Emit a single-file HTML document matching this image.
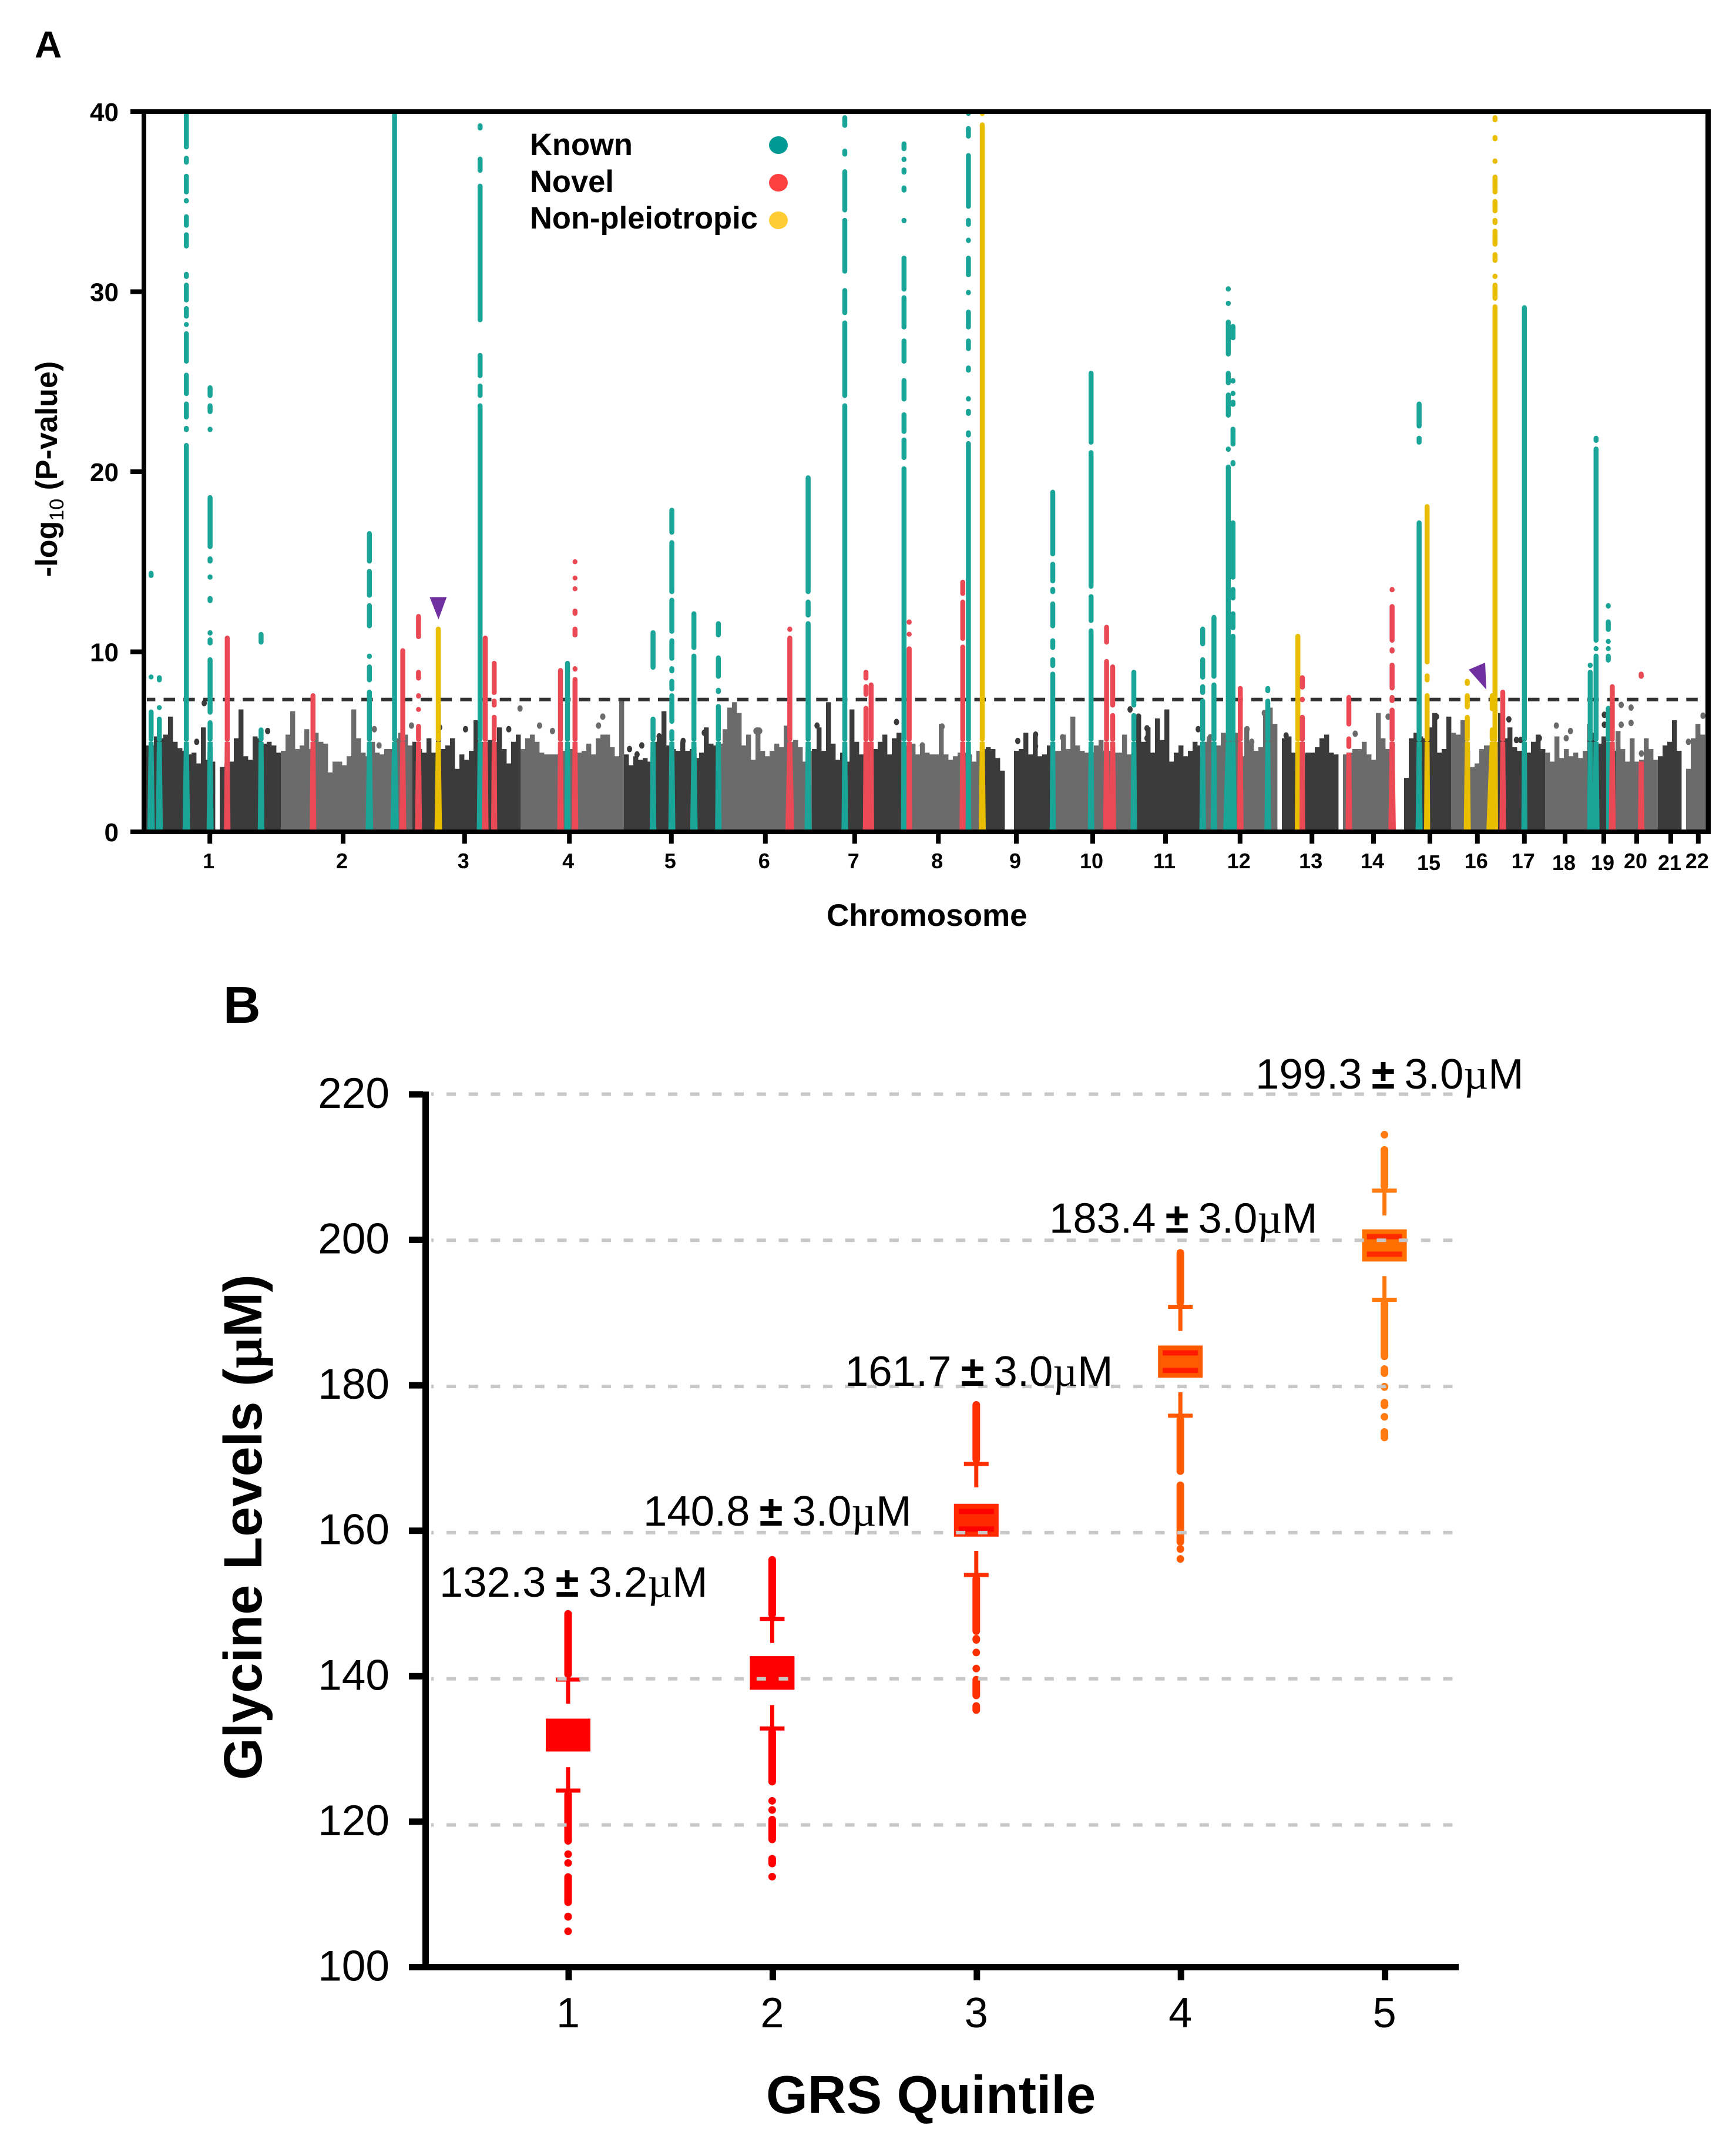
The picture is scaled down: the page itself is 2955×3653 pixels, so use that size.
<!DOCTYPE html>
<html lang="en">
<head>
<meta charset="utf-8">
<title>Manhattan plot and glycine levels by GRS quintile</title>
<style>
html,body{margin:0;padding:0;background:#fff;}
svg{display:block;}
text{font-family:"Liberation Sans",Arial,sans-serif;fill:#000;}
.b{font-weight:bold;}
.mu{font-family:"Liberation Serif",serif;}
</style>
</head>
<body>
<svg id="fig" xmlns="http://www.w3.org/2000/svg" width="2955" height="3653" viewBox="0 0 2955 3653">
  <rect x="0" y="0" width="2955" height="3653" fill="#fff"/>
  <g id="panelA">
    <text class="b" x="59" y="98" font-size="64">A</text>
    <g id="bgLayer"></g>
    <g id="thresholdLayer"></g>
    <g id="lociLayer"></g>
    <g id="markerLayer"></g>
    <g id="axisALayer"></g>
    <text class="b" transform="translate(97,982) rotate(-90)" font-size="52">-log<tspan dy="11" font-size="34" font-weight="normal">10</tspan><tspan dy="-11"> (P-value)</tspan></text>
    <text class="b" x="1407" y="1576" font-size="53">Chromosome</text>
    <g>
      <text class="b" x="902" y="264" font-size="52.5">Known</text>
      <text class="b" x="902" y="327" font-size="52.5">Novel</text>
      <text class="b" x="902" y="389" font-size="52.5">Non-pleiotropic</text>
      <ellipse cx="1325" cy="247" rx="16" ry="15" fill="#009a94"/>
      <ellipse cx="1325" cy="311" rx="16" ry="15" fill="#ff4040"/>
      <ellipse cx="1325" cy="375" rx="16" ry="15" fill="#ffcc33"/>
    </g>
  </g>
  <g id="panelB">
    <text class="b" x="380" y="1741" font-size="88">B</text>
    <g id="boxLayer"></g>
    <g id="gridLayer"></g>
    <g id="axisBLayer"></g>
    <g id="annotationLayer"></g>
    <text class="b" transform="translate(445,3030) rotate(-90)" font-size="92">Glycine Levels (<tspan class="mu">µ</tspan>M)</text>
    <text class="b" x="1304" y="3597" font-size="91">GRS Quintile</text>
  </g>
</svg>
<script>
/* ---------- Panel A data ---------- */
const chromosomes = ["1","2","3","4","5","6","7","8","9","10","11","12","13","14","15","16","17","18","19","20","21","22"];
/* genome coordinates are in fixed-width genome bins */
const chromosomeTicks = [13.4,41.75,67.6,89.9,111.6,131.6,150.6,168.4,185,201.25,216.75,232.6,247.9,261,273,283.1,293.1,301.75,310,317,324.25,330.1];
const chromosomeEnds = [28.1,56.4,79.1,101.5,121.9,141.6,160.3,177.1,192.1,209.1,224.1,240.5,254,266,277.5,287.5,297.3,306.3,312.9,321,327,332];
const pValueTicks = [40,30,20,10,0];
const genomeWideThreshold = 7.35;
/* peak -log10(P) of non-significant SNPs per genome bin */
const signalEnvelope = [
4.8,4.8,5.3,5.2,5.4,6.4,5.0,4.65,4.5,4.3,
4.4,3.8,5.8,4.0,3.9,0,3.6,3.8,3.9,5.2,
6.8,4.2,4.0,5.3,5.2,4.9,5.0,4.8,4.4,4.5,
5.4,6.7,4.6,4.8,5.7,4.6,5.5,5.0,4.9,3.3,
3.9,3.9,3.7,4.2,6.8,5.2,4.4,4.2,5.0,4.4,
4.3,4.6,4.6,5.2,5.5,5.4,4.8,5.0,4.6,4.4,
5.2,4.4,7.1,4.6,4.8,5.2,3.5,4.3,4.0,4.5,
6.2,5.0,4.9,5.1,5.0,5.8,4.6,3.8,5.0,5.4,
4.6,5.2,5.4,5.0,4.4,4.3,4.3,4.3,4.3,4.5,
4.6,4.6,4.4,4.5,4.9,4.3,5.2,5.4,5.4,4.7,
4.2,7.4,4.3,3.7,4.2,4.0,4.1,3.9,5.0,5.4,
6.7,4.8,4.6,4.5,5.0,4.5,4.6,4.1,4.4,5.8,
4.9,4.8,4.9,5.7,6.9,7.2,6.6,4.8,5.4,4.0,
5.8,4.5,4.2,4.5,4.9,4.7,5.9,5.0,5.1,4.7,
3.9,4.5,4.6,5.8,4.5,7.2,4.9,4.0,4.4,3.9,
6.8,5.0,4.3,5.0,4.5,4.6,5.0,5.4,4.3,5.2,
5.5,4.7,4.8,4.9,4.3,4.9,4.4,4.3,4.3,6.0,
4.3,4.0,4.2,4.4,4.4,4.3,3.9,4.5,4.6,4.7,
4.6,4.1,3.4,0,0,4.5,4.6,5.5,4.3,5.4,
4.2,4.3,4.8,4.5,4.5,5.4,4.6,6.4,4.8,4.5,
4.4,4.4,4.8,5.1,4.5,4.5,4.4,4.4,5.4,4.3,
4.6,6.5,5.0,5.8,4.4,6.3,5.1,6.8,3.9,4.4,
4.8,4.2,4.5,5.0,4.8,5.0,5.3,5.0,4.8,5.5,
5.4,5.7,5.5,4.2,5.8,5.0,4.5,4.7,6.7,6.9,
6.0,0,5.2,5.3,4.4,4.4,4.3,4.4,4.4,4.7,
5.2,5.4,4.4,4.3,0,4.3,4.4,4.6,4.6,5.0,
4.3,4.0,6.6,5.2,4.6,4.9,0,0,3.0,5.2,
5.5,5.3,5.2,5.8,6.6,4.4,4.6,6.4,5.5,5.4,
6.2,4.5,3.6,3.8,4.6,4.8,4.8,5.0,6.6,5.2,
5.8,4.7,4.5,4.5,4.4,5.0,5.4,4.6,4.4,3.9,
5.3,4.1,4.6,4.2,4.4,4.1,4.5,6.0,5.5,4.9,
5.3,4.9,4.5,5.6,4.6,3.9,5.2,3.9,4.0,5.2,
4.6,4.0,4.2,4.8,5.0,6.2,4.5,0,3.5,5.2,6.0,5.4
];
/* isolated sub-threshold SNPs */
const scatterPos = [12.2,10.6,25.7,79.4,77,67.8,56.3,48.4,62.3,49.4,83.55,86.3,97,96.1,102.7,104.3,105.3,109,114.1,118.6,142.6,159.5,129.6,130.4,165,169.2,185.3,189.1,189.1,194.8,209.2,211,212.8,212.8,223.7,226.25,234.1,235.1,237.75,239.9,242.4,257.1,264.1,274.4,289.8,299.9,302.9,302,310.1,310.1,313.7,313.7,315.8,315.8,331.1,328,318,291.4,292.3,296.3];
const scatterVal = [7.15,5.0,5.6,6.85,5.7,5.7,5.9,5.7,5.8,4.8,5.9,5.6,6.4,5.9,4.6,4.3,4.8,5.3,5.05,5.5,5.9,6.1,5.6,5.6,4.8,5.85,5.05,5.4,4.75,5.25,6.8,6.4,5.75,5.2,5.7,5.25,5.7,5.0,6.6,5.7,5.35,5.45,6.4,6.4,6.25,5.9,5.6,5.2,6.5,5.95,7.05,5.95,6.9,6.05,6.45,5.0,4.35,5.1,5.1,5.2];
/* associated loci: K known, N novel, P non-pleiotropic */
const lociPos = [0.9,2.65,8.4,13.45,17.1,24.3,35.35,47.35,52.7,54.45,57.8,62,70.9,72,73.9,88,89.5,91.1,107.7,111.7,116.4,121.6,136.8,140.7,148.5,153,154.1,161.1,162.2,173.6,174.8,177.75,192.75,200.9,204.2,205.5,210,224.65,227.05,230.1,231.1,232.65,238.5,244.9,245.85,255.75,264.95,270.7,272.4,280.95,286.25,286.85,288.5,293.1,307.1,307.7,308.35,310.95,311.8,317.95];
const lociCat = ["K","K","K","K","N","K","N","K","K","N","N","P","K","N","N","N","K","N","K","K","K","K","N","K","K","N","N","K","N","N","K","P","K","K","N","N","K","K","K","K","K","N","K","P","N","N","N","K","P","P","P","P","N","K","K","K","K","K","N","N"];
const lociExtent = [1.6,1.5,1.6,1.5,1.4,1.4,1.4,1.6,1.8,1.5,1.5,1.6,1.4,1.4,1.3,1.4,1.3,1.4,1.4,1.5,1.6,1.4,1.9,1.5,1.4,1.3,1.3,1.3,1.2,1.4,1.2,1.5,1.3,1.4,1.5,1.5,1.4,1.4,1.4,2.2,1.6,1.4,1.4,1.3,1.2,1.4,1.6,1.5,1.3,1.5,2.5,1.3,1.4,1.3,1.3,2.6,1.5,0.9,1.5,1.4];
const lociSpans = [
[[0,6.8],[8.5,8.7],[14.1,14.5]],
[[0,6.4],[6.8,7.0],[8.3,8.7]],
[[0,21.6],[22.2,22.55],[22.9,23.9],[24.2,25.5],[26,27.8],[28.05,28.3],[28.5,29.2],[29.4,30.5],[30.7,31.1],[32.4,33.3],[33.55,34.3],[34.9,35.2],[35.4,36.55],[37.05,37.55],[37.9,40]],
[[0,6.2],[6.5,9.7],[10.35,10.8],[10.9,11.2],[12.7,13.1],[14,14.3],[14.9,15.3],[15.7,18.7],[22.2,22.5],[23.2,23.8],[24.1,24.8]],
[[0,10.9]],
[[0,5.8],[10.4,11.1]],
[[0,7.7]],
[[0,7.9],[8.3,9.3],[9.6,9.9],[11.3,12.7],[13.0,14.6],[14.9,16.7]],
[[0,40]],
[[0,10.2]],
[[0,6.0],[6.7,6.9],[7.4,7.7],[8.4,9.0],[10.7,12.1]],
[[0,11.4]],
[[0,23.8],[24.1,24.9],[25.2,26.6],[28.3,36],[36.6,37.5],[38.95,39.35]],
[[0,10.9]],
[[0,6.5],[6.9,7.4],[7.6,9.5]],
[[0,9.1]],
[[0,9.5]],
[[0,8.6],[8.9,9.2],[10.8,11.4],[12,12.4],[13.4,13.6],[14.0,14.2],[14.9,15.1]],
[[0,6.4],[9,11.2]],
[[0,5.7],[6,7.7],[7.8,8.5],[8.8,9.2],[9.5,10.75],[11,13],[13.2,16.2],[16.5,18]],
[[0,9.9],[10.1,12.25]],
[[0,7.1],[7.65,8],[8.5,9.8],[10.8,11.7]],
[[0,10.9],[11.1,11.4]],
[[0,11.7],[11.9,12.9],[13.2,19.8]],
[[0,23.8],[24.1,28.4],[28.7,30.2],[31,34.1],[34.4,36.8],[37.5,37.95],[39.1,39.8]],
[[0,7.0],[7.5,8.2],[8.4,9.0]],
[[0,8.3]],
[[0,20.3],[20.65,21.9],[22.1,23.3],[23.9,25.2],[26,27.4],[27.9,29.8],[30,32],[33.8,34.1],[35.5,35.9],[36.5,36.9],[37.2,37.5],[37.8,38.35]],
[[0,10.3],[10.85,11.1],[11.5,11.8]],
[[0,10.4],[10.6,12.9],[13.1,14]],
[[0,21.7],[21.9,22.3],[23.1,23.5],[23.9,24.2],[25.5,25.9],[26.7,27.4],[27.9,29],[29.8,30.1],[30.8,32],[32.7,33],[33.6,34.1],[34.6,37.7],[38.5,39.2],[39.8,40]],
[[0,39.4],[39.8,40]],
[[0,8.9],[9.1,9.7],[10.1,10.75],[11.3,12.8],[13.2,13.6],[13.8,15],[15.3,19]],
[[0,11.3],[11.6,13.2],[13.5,21.2],[21.5,25.6]],
[[0,9.6],[10.4,11.5]],
[[0,6.6],[6.9,9.3]],
[[0,6.6],[6.9,9.0]],
[[0,7.4],[7.6,8.2],[8.45,9.7],[10.3,11.4]],
[[0,8.3],[8.5,12.05]],
[[0,20.4],[21.1,21.4],[23,24.4],[24.8,25.6],[26.4,28.45],[29.2,29.5],[30,30.3]],
[[0,11],[11.2,12.25],[12.85,13.6],[14,17.3],[20.3,20.65],[21.4,22.5],[23.6,24],[24.2,24.5],[24.9,25.2],[27.3,28.2]],
[[0,8.1]],
[[0,7.4],[7.7,8.1]],
[[0,11]],
[[0,6.5],[7.2,7.5],[7.9,8.7]],
[[0,4.4],[4.6,5.3],[5.85,7.6]],
[[0,6.9],[7.15,7.6],[7.85,9.4],[9.9,10.25],[10.5,12.65],[13.3,13.6]],
[[0,17.3],[21.5,22],[22.4,23.9]],
[[0,7.7],[8.3,8.8],[9.3,18.2]],
[[0,6.5],[6.8,7.7],[8.1,8.5]],
[[0,5.8],[6.7,7.7]],
[[0,29.3],[29.5,30.5],[30.7,31],[31.6,32.2],[32.5,33.5],[33.7,34.1],[34.35,35.15],[35.4,36.5],[37.1,37.4],[38.35,38.7],[39.4,39.8]],
[[0,7.9]],
[[0,29.25]],
[[0,9.0],[9.1,9.4]],
[[0,2.7]],
[[0,9.9],[10.05,10.3],[10.5,21.4],[21.6,22]],
[[0,7.0],[9.4,9.9],[10.05,10.3],[10.45,10.7],[11.1,11.8],[12.4,12.7]],
[[0,8.2]],
[[0,3.9],[8.5,8.9]]
];
const highlightPos = [62.05,285];
const highlightVal = [11.8,7.9];

/* ---------- Panel B data ---------- */
const quintiles = [1,2,3,4,5];
const glycineTicks = [220,200,180,160,140,120,100];
const gridValues = [220,200,180,160,140,120];
const means = [132.3,140.8,161.7,183.4,199.3];
const sds = [3.2,3.0,3.0,3.0,3.0];
const boxHalfRange = [2.25,2.3,2.25,2.2,2.2];
const capHigh = [139.9,148.2,169.4,190.9,206.8];
const capLow = [124.7,133.2,154.2,176,191.85];
const whiskerHighStart = [136.6,144.9,166.2,187.6,203.4];
const whiskerLowStart = [127.9,136.4,157.5,179.2,195.1];
const upperOutlierSpans = [
[[140.1,149.4]],
[[148.3,156.8]],
[[169.5,178]],
[[191,198.8]],
[[206.9,212.9],[214,214.9]]
];
const lowerOutlierSpans = [
[[117.3,124.7],[115.7,116.3],[114.5,115.1],[108.9,113.4],[106.9,108],[105.1,105.8]],
[[125.4,133.2],[123,123.6],[121.8,122.3],[117.5,121.25],[114.2,115.9],[112.5,113.35]],
[[146,154.2],[144.8,146],[143.2,144],[141.2,141.6],[137.2,140.4],[135.2,136.8]],
[[167.9,176],[158.2,167],[157.5,158],[156.2,156.6]],
[[183.6,191.85],[181.3,182.9],[179.4,180.5],[176.9,178.3],[175.5,176.2],[172.5,174.3]]
];

/* ---------- Styles (kept apart from data) ---------- */
const catColor = {K:"#1aa598",N:"#e94a55",P:"#e9bd00"};
const stripColor = ["#ff0000","#ff0000","#ff3000","#ff5a00","#ff7a10"];
const boxFill = ["#ff0000","#ff0000","#ff2a00","#ff5a00","#ff7000"];
const bandFill = ["#ff0000","#ff0000","#ff0000","#ff1a00","#ff2a00"];
const NS = "http://www.w3.org/2000/svg";

/* ---------- Axis functions ---------- */
function gx(p){return 250+8*p;}
function gy(v){return 1416-30.65*v;}
function qx(i){return 967+347.4*i;}
function vy(v){return 1862.5+(220-v)*12.44;}
function vyTick(v){return 3348.5-(v-100)*12.38;}
function mk(tag,parent){const e=document.createElementNS(NS,tag);parent.appendChild(e);return e;}
function set(e,o){for(const k in o){e.setAttribute(k,o[k]);}return e;}
function chromIndex(p){for(let i=0;i<chromosomeEnds.length;i++){if(p<=chromosomeEnds[i])return i;}return chromosomeEnds.length-1;}
function chromColor(p){return chromIndex(p)%2===0?"#3b3b3b":"#6b6b6b";}
function vSeg(el,x,yTop,yBottom,w,color){
  let a=yTop+w/2,b=yBottom-w/2;
  if(a>b){a=b=(yTop+yBottom)/2;}
  set(el,{x1:x,x2:x,y1:a,y2:b,stroke:color,"stroke-width":w,"stroke-linecap":"round"});
}

/* ---------- Panel A: signal ---------- */
const bgLayer=document.getElementById("bgLayer");
signalEnvelope.forEach(function(v,b){
  if(v<=0)return;
  const el=mk("rect",bgLayer);
  
  
  set(el,{x:gx(b)-4,y:gy(v),width:8.4,height:gy(0)-gy(v),fill:chromColor(b)});
});
scatterPos.forEach(function(p,i){
  const el=mk("ellipse",bgLayer);
  
  
  set(el,{cx:gx(p),cy:gy(scatterVal[i]),rx:4.5,ry:5.5,fill:chromColor(p)});
});

/* threshold */
const th=mk("line",document.getElementById("thresholdLayer"));


set(th,{x1:250,x2:2892,y1:gy(genomeWideThreshold),y2:gy(genomeWideThreshold),stroke:"#333","stroke-width":6,"stroke-dasharray":"19.5 14.16","stroke-dashoffset":5.16});

/* loci */
const lociLayer=document.getElementById("lociLayer");
lociPos.forEach(function(p,i){
  const color=catColor[lociCat[i]];
  const x=gx(p);
  const halfBase=lociExtent[i]*4;
  const g=mk("g",lociLayer);
  
  
  lociSpans[i].forEach(function(s){
    if(s[0]===0){
      const neck=Math.min(s[1],5);
      const poly=mk("polygon",g);
      
      
      const hw=Math.min(halfBase,4.25);
      set(poly,{points:(x-halfBase)+","+gy(0)+" "+(x+halfBase)+","+gy(0)+" "+(x+hw)+","+gy(neck)+" "+(x-hw)+","+gy(neck),fill:color});
      if(s[1]>neck){
        const up=mk("line",g);
        
        
        vSeg(up,x,gy(s[1]),gy(neck),8.5,color);
      }
    }else{
      const seg=mk("line",g);
      
      
      vSeg(seg,x,gy(s[1]),gy(s[0]),8.5,color);
    }
  });
});

/* highlight triangles */
const markerLayer=document.getElementById("markerLayer");
const tri1=mk("polygon",markerLayer);


set(tri1,{points:(gx(highlightPos[0])-15)+","+(gy(highlightVal[0])-38)+" "+(gx(highlightPos[0])+14)+","+(gy(highlightVal[0])-38)+" "+gx(highlightPos[0])+","+gy(highlightVal[0]),fill:"#7030a0"});
const tri2=mk("polygon",markerLayer);


set(tri2,{points:(gx(highlightPos[1])-30)+","+(gy(highlightVal[1])-34)+" "+(gx(highlightPos[1])-2)+","+(gy(highlightVal[1])-46)+" "+gx(highlightPos[1])+","+gy(highlightVal[1]),fill:"#7030a0"});

/* axes A */
const axA=document.getElementById("axisALayer");
const frameL=mk("rect",axA);


set(frameL,{x:241,y:186,width:8,height:1234,fill:"#000"});
const frameT=mk("rect",axA);


set(frameT,{x:222,y:186,width:2690,height:8,fill:"#000"});
const frameR=mk("rect",axA);


set(frameR,{x:2903,y:186,width:9,height:1234,fill:"#000"});
const frameB=mk("rect",axA);


set(frameB,{x:222,y:1412,width:2690,height:8,fill:"#000"});
pValueTicks.forEach(function(v){
  const t=mk("rect",axA);
  
  
  set(t,{x:222,y:gy(v)-4,width:20,height:8,fill:"#000"});
  const l=mk("text",axA);
  
  
  set(l,{x:202,y:gy(v)+16,"text-anchor":"end","font-size":44,"font-weight":"bold"});
  l.textContent=String(v);
});
chromosomes.forEach(function(c,i){
  const t=mk("rect",axA);
  
  
  set(t,{x:gx(chromosomeTicks[i])-4,y:1420,width:8,height:16,fill:"#000"});
  const l=mk("text",axA);
  
  
  const low=(c==="15"||c==="18"||c==="19"||c==="21")?3:0;
  set(l,{x:gx(chromosomeTicks[i])-2,y:1478+low,"text-anchor":"middle","font-size":36,"font-weight":"bold"});
  l.textContent=c;
});

/* ---------- Panel B ---------- */
const boxLayer=document.getElementById("boxLayer");
quintiles.forEach(function(q,i){
  const x=qx(i);
  const col=stripColor[i];
  const g=mk("g",boxLayer);
  
  

  const box=mk("rect",g);
  
  
  const top=vy(means[i]+boxHalfRange[i]);
  const bot=vy(means[i]-boxHalfRange[i]);
  set(box,{x:x-38,y:top,width:76,height:bot-top,fill:boxFill[i]});

  [means[i]+1.2,means[i]-1.2].forEach(function(b){
    const band=mk("rect",g);
    
    
    set(band,{x:x-30,y:vy(b)-4.5,width:60,height:9,fill:bandFill[i]});
  });

  const wh=mk("line",g);
  
  
  set(wh,{x1:x,x2:x,y1:vy(capHigh[i]),y2:vy(whiskerHighStart[i]),stroke:col,"stroke-width":7});

  const wl=mk("line",g);
  
  
  set(wl,{x1:x,x2:x,y1:vy(whiskerLowStart[i]),y2:vy(capLow[i]),stroke:col,"stroke-width":7});

  const ch=mk("line",g);
  
  
  set(ch,{x1:x-21,x2:x+21,y1:vy(capHigh[i]),y2:vy(capHigh[i]),stroke:col,"stroke-width":7});

  const cl=mk("line",g);
  
  
  set(cl,{x1:x-21,x2:x+21,y1:vy(capLow[i]),y2:vy(capLow[i]),stroke:col,"stroke-width":7});

  upperOutlierSpans[i].forEach(function(s){
    const o=mk("line",g);
    
    
    vSeg(o,x,vy(s[1]),vy(s[0]),13,col);
  });
  lowerOutlierSpans[i].forEach(function(s){
    const o=mk("line",g);
    
    
    vSeg(o,x,vy(s[1]),vy(s[0]),13,col);
  });
});

const gridLayer=document.getElementById("gridLayer");
gridValues.forEach(function(v){
  const l=mk("line",gridLayer);
  
  
  set(l,{x1:734,x2:2474,y1:vy(v),y2:vy(v),stroke:"#c8c8c8","stroke-width":6,"stroke-dasharray":"16 21.7","stroke-dashoffset":11.7});
});

const axB=document.getElementById("axisBLayer");
const axL=mk("rect",axB);


set(axL,{x:719,y:1858,width:11,height:1496,fill:"#000"});
const axX=mk("rect",axB);


set(axX,{x:696,y:3343,width:1787,height:11,fill:"#000"});
glycineTicks.forEach(function(v){
  const t=mk("rect",axB);
  
  
  set(t,{x:696,y:vyTick(v)-5.5,width:24,height:11,fill:"#000"});
  const l=mk("text",axB);
  
  
  set(l,{x:663,y:vyTick(v)+23,"text-anchor":"end","font-size":73});
  l.textContent=String(v);
});
quintiles.forEach(function(q,i){
  const t=mk("rect",axB);
  
  
  set(t,{x:qx(i)-4.5,y:3354,width:11,height:17,fill:"#000"});
  const l=mk("text",axB);
  
  
  set(l,{x:qx(i),y:3451,"text-anchor":"middle","font-size":72});
  l.textContent=String(q);
});

/* annotations */
const annotationX = [748,1095,1438,1786,2137];
const annotationY = [2718,2597,2359,2098.5,1853];
const annLayer=document.getElementById("annotationLayer");
quintiles.forEach(function(q,i){
  const t=mk("text",annLayer);
  
  
  set(t,{x:annotationX[i],y:annotationY[i],"font-size":72.5,"word-spacing":"-4px"});
  t.appendChild(document.createTextNode(means[i].toFixed(1)+" "));
  const pm=mk("tspan",t);
  pm.setAttribute('font-weight','bold');
  pm.textContent="±";
  t.appendChild(document.createTextNode(" "+sds[i].toFixed(1)));
  const mu=mk("tspan",t);
  mu.setAttribute('class','mu');
  mu.textContent="µ";
  t.appendChild(document.createTextNode("M"));
});
</script>
</body>
</html>
